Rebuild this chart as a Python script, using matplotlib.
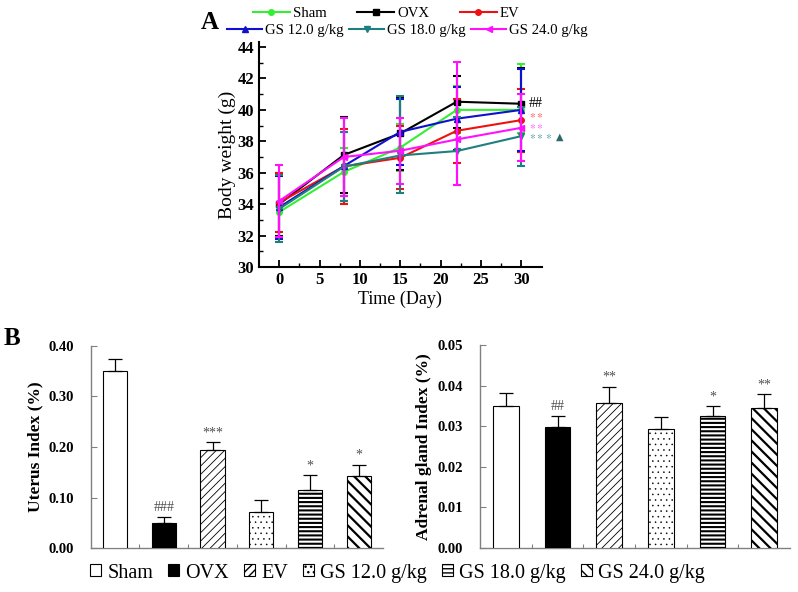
import matplotlib
matplotlib.use("Agg")
import matplotlib.pyplot as plt
import numpy as np
from matplotlib.lines import Line2D

plt.rcParams['font.family'] = ['Liberation Serif', 'DejaVu Serif', 'DejaVu Sans']
plt.rcParams['mathtext.fontset'] = 'stix'

# ---------------- Panel A data ----------------
days = [0, 8, 15, 22, 30]
a_names = ["Sham", "OVX", "EV", "GS 12.0 g/kg", "GS 18.0 g/kg", "GS 24.0 g/kg"]
sham = [33.5, 36.05, 37.6, 40.0, 40.0]
ovx = [34.0, 37.13, 38.5, 40.52, 40.39]
ev = [34.1, 36.4, 36.95, 38.67, 39.35]
gs12 = [33.8, 36.42, 38.6, 39.44, 40.0]
gs18 = [33.7, 36.38, 37.1, 37.38, 38.33]
gs24 = [34.2, 37.0, 37.4, 38.12, 38.86]
sham_lo = [1.6, 1.5, 1.5, 1.5, 1.5]
sham_hi = [2.4, 1.5, 1.5, 1.5, 2.9]
ovx_lo = [2.0, 2.4, 2.3, 1.65, 3.05]
ovx_hi = [2.0, 2.4, 2.3, 1.65, 2.25]
ev_lo = [1.9, 2.4, 2.0, 2.03, 2.0]
ev_hi = [1.9, 2.4, 2.0, 2.03, 2.0]
gs12_lo = [2.0, 2.2, 2.1, 2.0, 2.6]
gs12_hi = [2.0, 2.2, 2.1, 2.0, 2.6]
gs18_lo = [2.13, 2.2, 2.37, 2.18, 1.88]
gs18_hi = [2.13, 2.2, 3.8, 2.18, 1.88]
gs24_lo = [2.27, 2.5, 2.1, 2.92, 2.12]
gs24_hi = [2.27, 2.5, 2.1, 4.91, 2.12]

# ---------------- Panel B data ----------------
groups = ["Sham", "OVX", "EV", "GS 12.0 g/kg", "GS 18.0 g/kg", "GS 24.0 g/kg"]
uterus = [0.351, 0.049, 0.194, 0.071, 0.116, 0.142]
uterus_err = [0.022, 0.013, 0.016, 0.024, 0.028, 0.023]
uterus_sig = ["", "###", "***", "", "*", "*"]
adrenal = [0.0350, 0.0297, 0.0357, 0.0294, 0.0326, 0.0345]
adrenal_err = [0.0032, 0.0027, 0.0040, 0.0029, 0.0024, 0.0034]
adrenal_sig = ["", "##", "**", "", "*", "**"]

fig = plt.figure(figsize=(7.98, 5.92), dpi=100)

# ================= Panel A =================
axA = fig.add_axes([0.3246, 0.549, 0.354, 0.3795])
series = [
    (sham, sham_lo, sham_hi, "#33ee33", "o"),
    (ovx, ovx_lo, ovx_hi, "#000000", "s"),
    (ev, ev_lo, ev_hi, "#ee1111", "o"),
    (gs12, gs12_lo, gs12_hi, "#1010d0", "^"),
    (gs18, gs18_lo, gs18_hi, "#1f7f7f", "v"),
    (gs24, gs24_lo, gs24_hi, "#ff10ff", "<"),
]
handles = []
for i, (vals, lo, hi, col, mk) in enumerate(series):
    axA.errorbar(days, vals, yerr=[lo, hi], color=col, marker=mk, ms=4,
                 lw=1.5, elinewidth=1.5, capsize=3, capthick=1.5, zorder=3 + i)
    handles.append(Line2D([], [], color=col, marker=mk, ms=4, lw=1.5))
axA.set_xlim(-2.5, 32.5)
axA.set_ylim(30, 44.3)
axA.set_xticks([0, 5, 10, 15, 20, 25, 30])
axA.set_xticks(np.arange(2.5, 30, 5), minor=True)
axA.set_yticks([30, 32, 34, 36, 38, 40, 42, 44])
axA.set_yticks(np.arange(31, 44, 2), minor=True)
for s in ['top', 'right']:
    axA.spines[s].set_visible(False)
for s in ['left', 'bottom']:
    axA.spines[s].set_linewidth(1.5)
axA.tick_params(which='major', direction='in', length=5, width=1.3, labelsize=12)
axA.tick_params(which='minor', direction='in', length=3, width=1.0)
for lab in axA.get_xticklabels() + axA.get_yticklabels():
    lab.set_fontweight('bold')
axA.set_xlabel("Time (Day)", fontsize=13, labelpad=2)
axA.set_ylabel("Body weight (g)", fontsize=14, labelpad=1)

# significance marks
axA.text(30.9, 40.42, "##", color="black", fontsize=10, va='center', ha='left')
axA.text(30.9, 39.62, r"$\ast\ast$", color="#ff5050", fontsize=8, va='center', ha='left')
axA.text(30.9, 38.96, r"$\ast\ast$", color="#ff55ff", fontsize=8, va='center', ha='left')
axA.text(30.9, 38.3, r"$\ast\ast\ast$", color="#4f9a9a", fontsize=8,
         va='center', ha='left')
axA.text(34.3, 38.3, "▲", color="#2a6a6a", fontsize=7, va='center', ha='left',
         family=['DejaVu Sans'])

legA1 = fig.legend(handles[:3], a_names[:3], ncol=3, loc='center left',
                   bbox_to_anchor=(0.317, 0.978), frameon=False, fontsize=10.6,
                   handlelength=2.5, handletextpad=0.2, columnspacing=2.1,
                   borderpad=0, borderaxespad=0)
legA2 = fig.legend(handles[3:], a_names[3:], ncol=3, loc='center left',
                   bbox_to_anchor=(0.2845, 0.948), frameon=False, fontsize=10.6,
                   handlelength=2.4, handletextpad=0.15, columnspacing=0.4,
                   borderpad=0, borderaxespad=0)

fig.text(0.263, 0.962, "A", fontsize=18, fontweight='bold', ha='center', va='center')
fig.text(0.004, 0.429, "B", fontsize=18, fontweight='bold', ha='left', va='center')

# ================= Panel B =================
hatches = [None, None, '////', '...', '----', '\\\\\\']
hatch_lw = [1, 1, 0.6, 0.35, 1.5, 1.6]
faces = ['white', 'black', 'white', 'white', 'white', 'white']
grey = '#808080'


def bar_panel(ax, vals, errs, sigs, ymax, ticks, ylabel):
    x = np.arange(len(vals))
    bars = ax.bar(x, vals, width=0.5, color=faces, edgecolor='black', linewidth=0.8,
                  yerr=[np.zeros(len(errs)), errs], capsize=5,
                  error_kw=dict(ecolor='black', elinewidth=0.9, capthick=0.9), zorder=3)
    for b, h, hl in zip(bars, hatches, hatch_lw):
        if h:
            b.set_hatch(h)
            try:
                b.set_hatch_linewidth(hl)
            except Exception:
                pass
    for xi, v, e, s in zip(x, vals, errs, sigs):
        if s:
            off = 7 if '#' in s else 2
            ax.annotate(s, (xi, v + e), xytext=(0, off), textcoords='offset points',
                        ha='center', va='center' if '#' in s else 'bottom',
                        fontsize=10, color='#505050')
    ax.set_xlim(-0.5, 5.5)
    ax.set_ylim(0, ymax)
    ax.set_yticks(ticks)
    ax.set_yticklabels(["%.2f" % t for t in ticks], fontweight='bold', fontsize=10.5)
    ax.set_xticks(np.arange(0.5, 5.5, 1.0))
    ax.set_xticklabels([])
    for s in ['top', 'right']:
        ax.spines[s].set_visible(False)
    for s in ['left', 'bottom']:
        ax.spines[s].set_color(grey)
        ax.spines[s].set_linewidth(1.0)
    ax.tick_params(axis='y', direction='in', length=4, color=grey, pad=12)
    ax.tick_params(axis='x', direction='in', length=3, color=grey)
    ax.set_ylabel(ylabel, fontsize=12.5, fontweight='bold', labelpad=4)
    return bars


axB1 = fig.add_axes([0.1137, 0.0738, 0.3663, 0.3422])
bars = bar_panel(axB1, uterus, uterus_err, uterus_sig, 0.40,
                 [0.0, 0.1, 0.2, 0.3, 0.4], "Uterus Index (%)")
axB2 = fig.add_axes([0.6015, 0.0748, 0.3885, 0.3424])
bar_panel(axB2, adrenal, adrenal_err, adrenal_sig, 0.05,
          [0.0, 0.01, 0.02, 0.03, 0.04, 0.05], "Adrenal gland Index (%)")

fig.legend(bars, groups, ncol=6, loc='center left', bbox_to_anchor=(0.113, 0.032),
           frameon=False, fontsize=14.5, handlelength=0.55, handleheight=0.55,
           handletextpad=0.3, columnspacing=0.75, borderpad=0, borderaxespad=0)

fig.savefig("out.png", dpi=100)
